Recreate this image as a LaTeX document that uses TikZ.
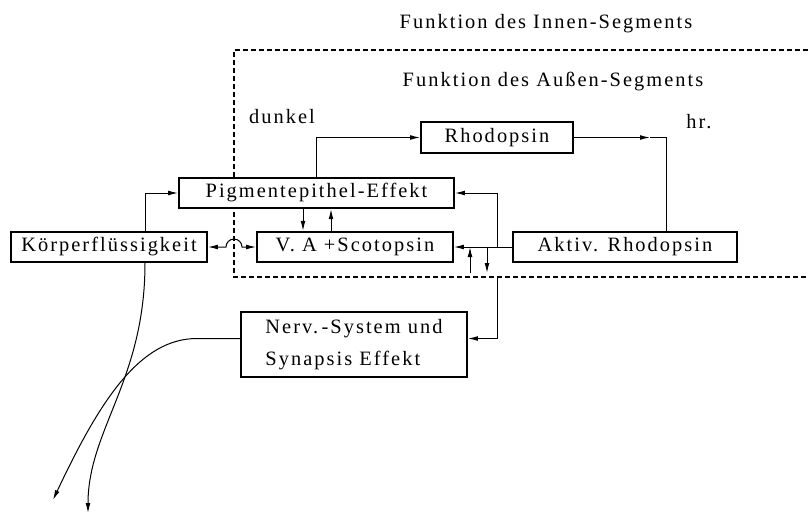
\documentclass[tikz,border=0pt]{standalone}
\usepackage{fontspec}
\setmainfont{Liberation Serif}[LetterSpace=10]
\usepackage{tikz}
\usetikzlibrary{arrows.meta,positioning,calc}
\tikzset{blk/.style={draw, line width=0.9pt, fill=white, inner sep=0pt, minimum width=#1, minimum height=15.25pt},
%default width of a box
blk/.default={98pt},
seg/.style={dash pattern=on 2.5pt off 1.5pt, line width=0.6pt}}

\begin{document}
\begin{tikzpicture}[x=0.5pt,y=-0.5pt,line width=0.5pt,
  font=\fontsize{10.2}{16}\selectfont,
  >={Latex[length=5pt,width=2.4pt]}]
  \useasboundingbox (0,0) rectangle (808,515);

  % Grenze des Segments
  \draw[seg] (808,50) -- (234,50) -- (234,277) -- (808,277);

  \node at (546,24) (innen) {Funktion des Innen-Segments};
  \node at (553,82) (aussen) {Funktion des Außen-Segments};
  \node at (282,117) (dunkel) {dunkel};
  \node at (699,122) (hell) {hr.};

  \node[blk=76pt] at (497,137.5) (rho) {Rhodopsin};
  \node[blk=137.5pt] at (316.5,193) (pig) {Pigmentepithel-Effekt};
  \node[blk] at (109,247) (kf) {Körperflüssigkeit};
  \node[blk] at (355,247) (va) {V. A +Scotopsin};
  \node[blk=112pt] at (625,247) (akt) {Aktiv. Rhodopsin};
  \node[blk=113pt,minimum height=32.5pt,align=left] at (354,344.5) (nerv) {Nerv.\,-System und\\Synapsis Effekt};

  \coordinate (hr) at (666,138);
  \coordinate (hrtip) at (650,138);
  \coordinate (jn) at (497,247);
  \coordinate (nv) at (497,277);
  \coordinate (kx) at (145,0);
  \coordinate (pa) at (303,0);
  \coordinate (pb) at (331,0);
  \coordinate (up) at (470,273);
  \coordinate (dn) at (487,273);
  \coordinate (hop) at (226,247);
  \coordinate (k1) at (88,513);
  \coordinate (k2) at (53,500);

  % dunkel / hell
  \draw[->] (pig.north) |- (rho.west);
  \draw[->] (rho.east) -- (rho.east -| hrtip);
  \draw (rho.east -| hrtip) -- (rho.east -| hr) -- (akt.north -| hr);

  \draw[->] (kf.north -| kx) |- (pig.west);
  \draw[->] (pig.south -| pa) -- (va.north -| pa);
  \draw[<-] (pig.south -| pb) -- (va.north -| pb);

  \draw[->] (akt.west) -- (jn) |- (pig.east);
  \draw[->] (jn) -- (va.east);
  \draw[->] (up) -- (up |- va.east);
  \draw[->] (dn |- va.east) -- (dn);
  \draw[->] (nv) |- ([yshift=3pt]nerv.east);

  \draw[<->] (kf.east) -- (hop) arc[start angle=180,end angle=0,radius=4pt] -- (va.west);

  \draw[->] (kf.south -| kx) .. controls (145,380) and (88,430) .. (k1);
  \draw[->] ([yshift=3pt]nerv.west) -- (197,338.5) .. controls (140,338.5) and (100,400) .. (k2);
\end{tikzpicture}
\end{document}
